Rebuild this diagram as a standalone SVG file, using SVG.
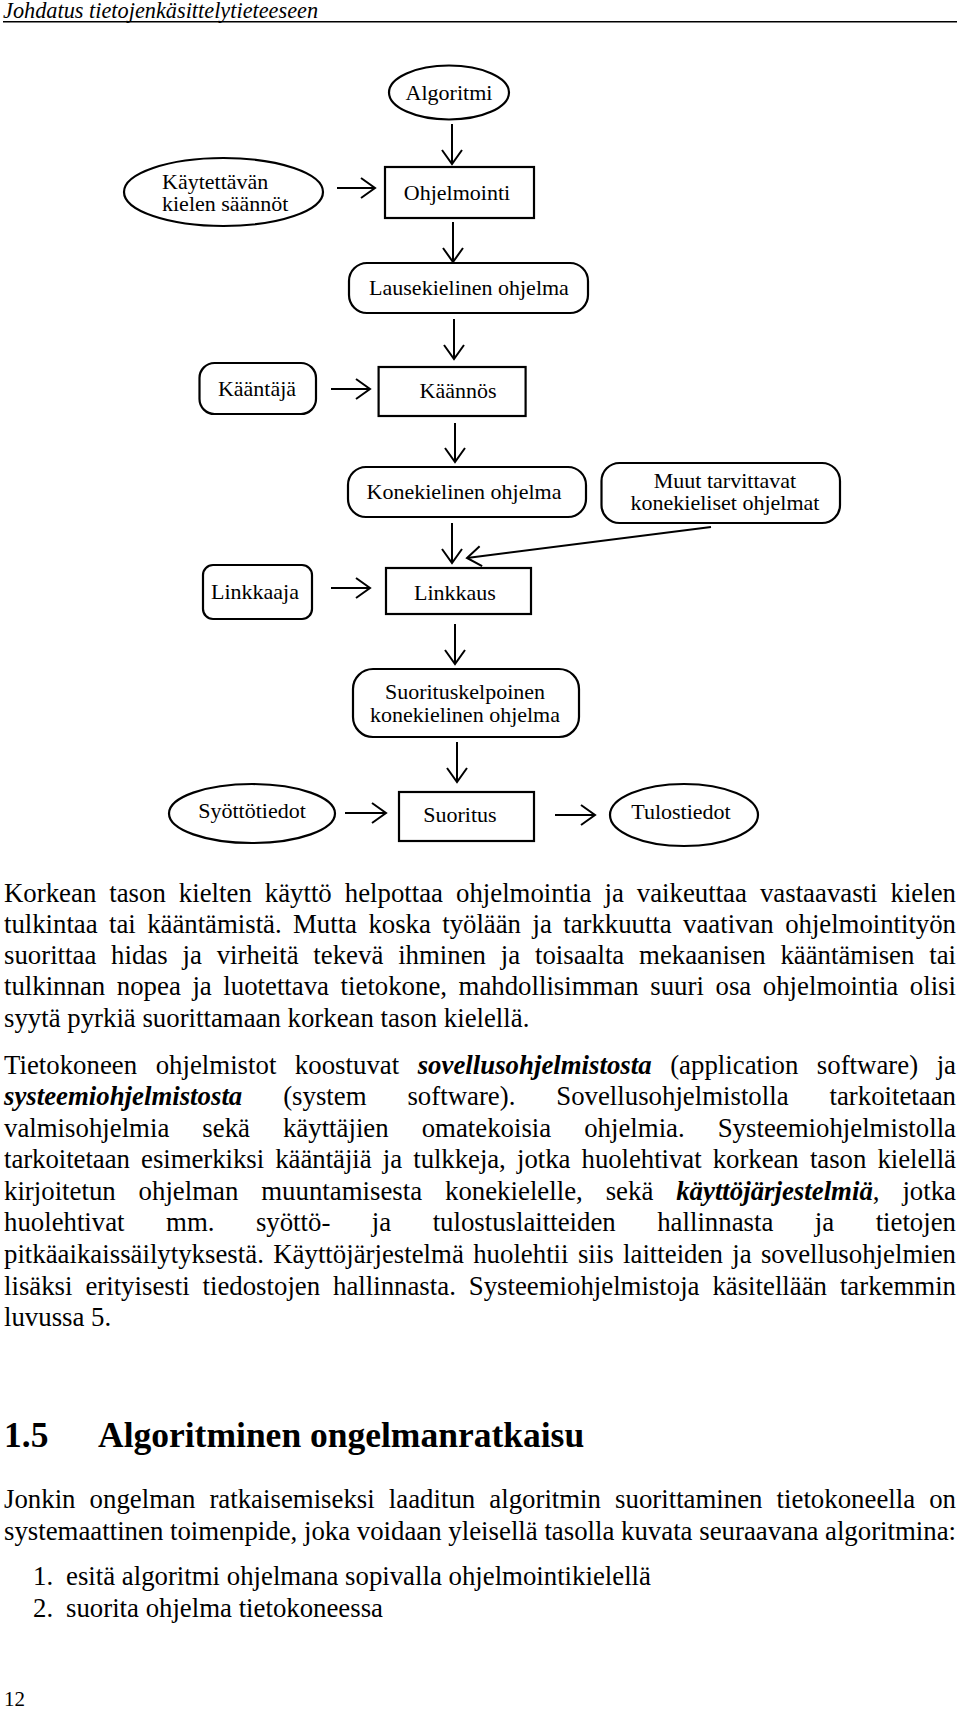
<svg xmlns="http://www.w3.org/2000/svg" width="960" height="1709" viewBox="0 0 960 1709">
<style>
.bg{fill:#fff}
.shape{fill:#fff;stroke:#000;stroke-width:2.2}
.lbl{font-family:"Liberation Serif","Times New Roman",serif;font-size:22px;fill:#000;text-anchor:middle}
.lbl-l{font-family:"Liberation Serif","Times New Roman",serif;font-size:22px;fill:#000}
.conn{stroke:#000;stroke-width:2;fill:none}
.body{font-family:"Liberation Serif","Times New Roman",serif;font-size:26.8px;fill:#000}
.bi{font-weight:bold;font-style:italic}
.hdr{font-family:"Liberation Serif","Times New Roman",serif;font-size:22.3px;font-style:italic;fill:#000}
.h1{font-family:"Liberation Serif","Times New Roman",serif;font-size:35.5px;font-weight:bold;fill:#000}
.pg{font-family:"Liberation Serif","Times New Roman",serif;font-size:21px;fill:#000}
</style>
<defs>
<marker id="arr" markerUnits="userSpaceOnUse" markerWidth="40" markerHeight="40" viewBox="-20 -20 40 40" refX="0" refY="0" orient="auto" overflow="visible">
<path d="M-14,-10 L0,0 L-14,10" fill="none" stroke="#000" stroke-width="2"/>
</marker>
</defs>
<rect class="bg" x="0" y="0" width="960" height="1709"/>

<g id="page-header">
<text class="hdr" x="3" y="18">Johdatus tietojenkäsittelytieteeseen</text>
<line x1="3" y1="21.7" x2="957" y2="21.7" stroke="#000" stroke-width="1.6"/>
</g>

<g id="connectors">
<line class="conn" x1="452" y1="124" x2="452" y2="164" marker-end="url(#arr)"/>
<line class="conn" x1="337" y1="188" x2="375" y2="188" marker-end="url(#arr)"/>
<line class="conn" x1="453" y1="222" x2="453" y2="262" marker-end="url(#arr)"/>
<line class="conn" x1="454" y1="319" x2="454" y2="359" marker-end="url(#arr)"/>
<line class="conn" x1="331" y1="389" x2="370" y2="389" marker-end="url(#arr)"/>
<line class="conn" x1="455" y1="423" x2="455" y2="462" marker-end="url(#arr)"/>
<line class="conn" x1="452" y1="523" x2="452" y2="563" marker-end="url(#arr)"/>
<line class="conn" x1="711" y1="527" x2="467" y2="558" marker-end="url(#arr)"/>
<line class="conn" x1="331" y1="588" x2="370" y2="588" marker-end="url(#arr)"/>
<line class="conn" x1="455" y1="624" x2="455" y2="664" marker-end="url(#arr)"/>
<line class="conn" x1="457" y1="742" x2="457" y2="782" marker-end="url(#arr)"/>
<line class="conn" x1="345" y1="813" x2="386" y2="813" marker-end="url(#arr)"/>
<line class="conn" x1="555" y1="815" x2="595" y2="815" marker-end="url(#arr)"/>
</g>

<g id="algoritmi">
<ellipse class="shape" cx="449" cy="92.5" rx="60" ry="27"/>
<text class="lbl" x="449" y="100">Algoritmi</text>
</g>
<g id="kaytettavan-kielen-saannot">
<ellipse class="shape" cx="223.5" cy="192" rx="99.5" ry="34"/>
<text class="lbl-l" x="162" y="189">Käytettävän</text>
<text class="lbl-l" x="162" y="211">kielen säännöt</text>
</g>
<g id="ohjelmointi">
<rect class="shape" x="385" y="167" width="149" height="51"/>
<text class="lbl" x="457" y="200">Ohjelmointi</text>
</g>
<g id="lausekielinen-ohjelma">
<rect class="shape" x="349" y="263" width="239" height="50" rx="18" ry="18"/>
<text class="lbl" x="469" y="295">Lausekielinen ohjelma</text>
</g>
<g id="kaantaja">
<rect class="shape" x="199.5" y="363" width="116.5" height="51" rx="15" ry="15"/>
<text class="lbl" x="257" y="396">Kääntäjä</text>
</g>
<g id="kaannos">
<rect class="shape" x="378.6" y="367" width="147" height="49"/>
<text class="lbl" x="458" y="398">Käännös</text>
</g>
<g id="konekielinen-ohjelma">
<rect class="shape" x="348" y="467" width="238" height="50" rx="18" ry="18"/>
<text class="lbl" x="464" y="499">Konekielinen ohjelma</text>
</g>
<g id="muut-ohjelmat">
<rect class="shape" x="601.5" y="463" width="238.5" height="60" rx="18" ry="18"/>
<text class="lbl" x="725" y="488">Muut tarvittavat</text>
<text class="lbl" x="725" y="510">konekieliset ohjelmat</text>
</g>
<g id="linkkaaja">
<rect class="shape" x="203" y="565" width="109" height="54" rx="10" ry="10"/>
<text class="lbl" x="255" y="599">Linkkaaja</text>
</g>
<g id="linkkaus">
<rect class="shape" x="386" y="568" width="145" height="46"/>
<text class="lbl" x="455" y="600">Linkkaus</text>
</g>
<g id="suorituskelpoinen">
<rect class="shape" x="353" y="669" width="226" height="68" rx="20" ry="20"/>
<text class="lbl" x="465" y="699">Suorituskelpoinen</text>
<text class="lbl" x="465" y="722">konekielinen ohjelma</text>
</g>
<g id="syottotiedot">
<ellipse class="shape" cx="252" cy="813.5" rx="83" ry="29.5"/>
<text class="lbl" x="252" y="818">Syöttötiedot</text>
</g>
<g id="suoritus">
<rect class="shape" x="399" y="792" width="135" height="49"/>
<text class="lbl" x="460" y="822">Suoritus</text>
</g>
<g id="tulostiedot">
<ellipse class="shape" cx="684" cy="815" rx="74" ry="31"/>
<text class="lbl" x="681" y="819">Tulostiedot</text>
</g>

<g id="body-text">
<text class="body" x="4" y="902" word-spacing="6.3" textLength="952" lengthAdjust="spacing">Korkean tason kielten käyttö helpottaa ohjelmointia ja vaikeuttaa vastaavasti kielen</text>
<text class="body" x="4" y="933" word-spacing="4.8" textLength="952" lengthAdjust="spacing">tulkintaa tai kääntämistä. Mutta koska työlään ja tarkkuutta vaativan ohjelmointityön</text>
<text class="body" x="4" y="964" word-spacing="8.1" textLength="952" lengthAdjust="spacing">suorittaa hidas ja virheitä tekevä ihminen ja toisaalta mekaanisen kääntämisen tai</text>
<text class="body" x="4" y="995" word-spacing="4.9" textLength="952" lengthAdjust="spacing">tulkinnan nopea ja luotettava tietokone, mahdollisimman suuri osa ohjelmointia olisi</text>
<text class="body" x="4" y="1027">syytä pyrkiä suorittamaan korkean tason kielellä.</text>

<text class="body" x="4" y="1074" word-spacing="11.8" textLength="952" lengthAdjust="spacing">Tietokoneen ohjelmistot koostuvat <tspan class="bi">sovellusohjelmistosta</tspan> (application software) ja</text>
<text class="body" x="4" y="1105" word-spacing="34.2" textLength="952" lengthAdjust="spacing"><tspan class="bi">systeemiohjelmistosta</tspan> (system software). Sovellusohjelmistolla tarkoitetaan</text>
<text class="body" x="4" y="1137" word-spacing="26.3" textLength="952" lengthAdjust="spacing">valmisohjelmia sekä käyttäjien omatekoisia ohjelmia. Systeemiohjelmistolla</text>
<text class="body" x="4" y="1168" word-spacing="4.6" textLength="952" lengthAdjust="spacing">tarkoitetaan esimerkiksi kääntäjiä ja tulkkeja, jotka huolehtivat korkean tason kielellä</text>
<text class="body" x="4" y="1200" word-spacing="16.2" textLength="952" lengthAdjust="spacing">kirjoitetun ohjelman muuntamisesta konekielelle, sekä <tspan class="bi">käyttöjärjestelmiä</tspan>, jotka</text>
<text class="body" x="4" y="1231" word-spacing="34.8" textLength="952" lengthAdjust="spacing">huolehtivat mm. syöttö- ja tulostuslaitteiden hallinnasta ja tietojen</text>
<text class="body" x="4" y="1263" word-spacing="2.7" textLength="952" lengthAdjust="spacing">pitkäaikaissäilytyksestä. Käyttöjärjestelmä huolehtii siis laitteiden ja sovellusohjelmien</text>
<text class="body" x="4" y="1295" word-spacing="6.2" textLength="952" lengthAdjust="spacing">lisäksi erityisesti tiedostojen hallinnasta. Systeemiohjelmistoja käsitellään tarkemmin</text>
<text class="body" x="4" y="1326">luvussa 5.</text>

<text class="h1" x="4" y="1447">1.5</text>
<text class="h1" x="98" y="1447">Algoritminen ongelmanratkaisu</text>

<text class="body" x="4" y="1508" word-spacing="7.4" textLength="952" lengthAdjust="spacing">Jonkin ongelman ratkaisemiseksi laaditun algoritmin suorittaminen tietokoneella on</text>
<text class="body" x="4" y="1540" textLength="952" lengthAdjust="spacing">systemaattinen toimenpide, joka voidaan yleisellä tasolla kuvata seuraavana algoritmina:</text>

<text class="body" x="33" y="1585">1.</text>
<text class="body" x="66" y="1585">esitä algoritmi ohjelmana sopivalla ohjelmointikielellä</text>
<text class="body" x="33" y="1617">2.</text>
<text class="body" x="66" y="1617">suorita ohjelma tietokoneessa</text>
</g>

<g id="page-number">
<text class="pg" x="4" y="1706">12</text>
</g>
</svg>
